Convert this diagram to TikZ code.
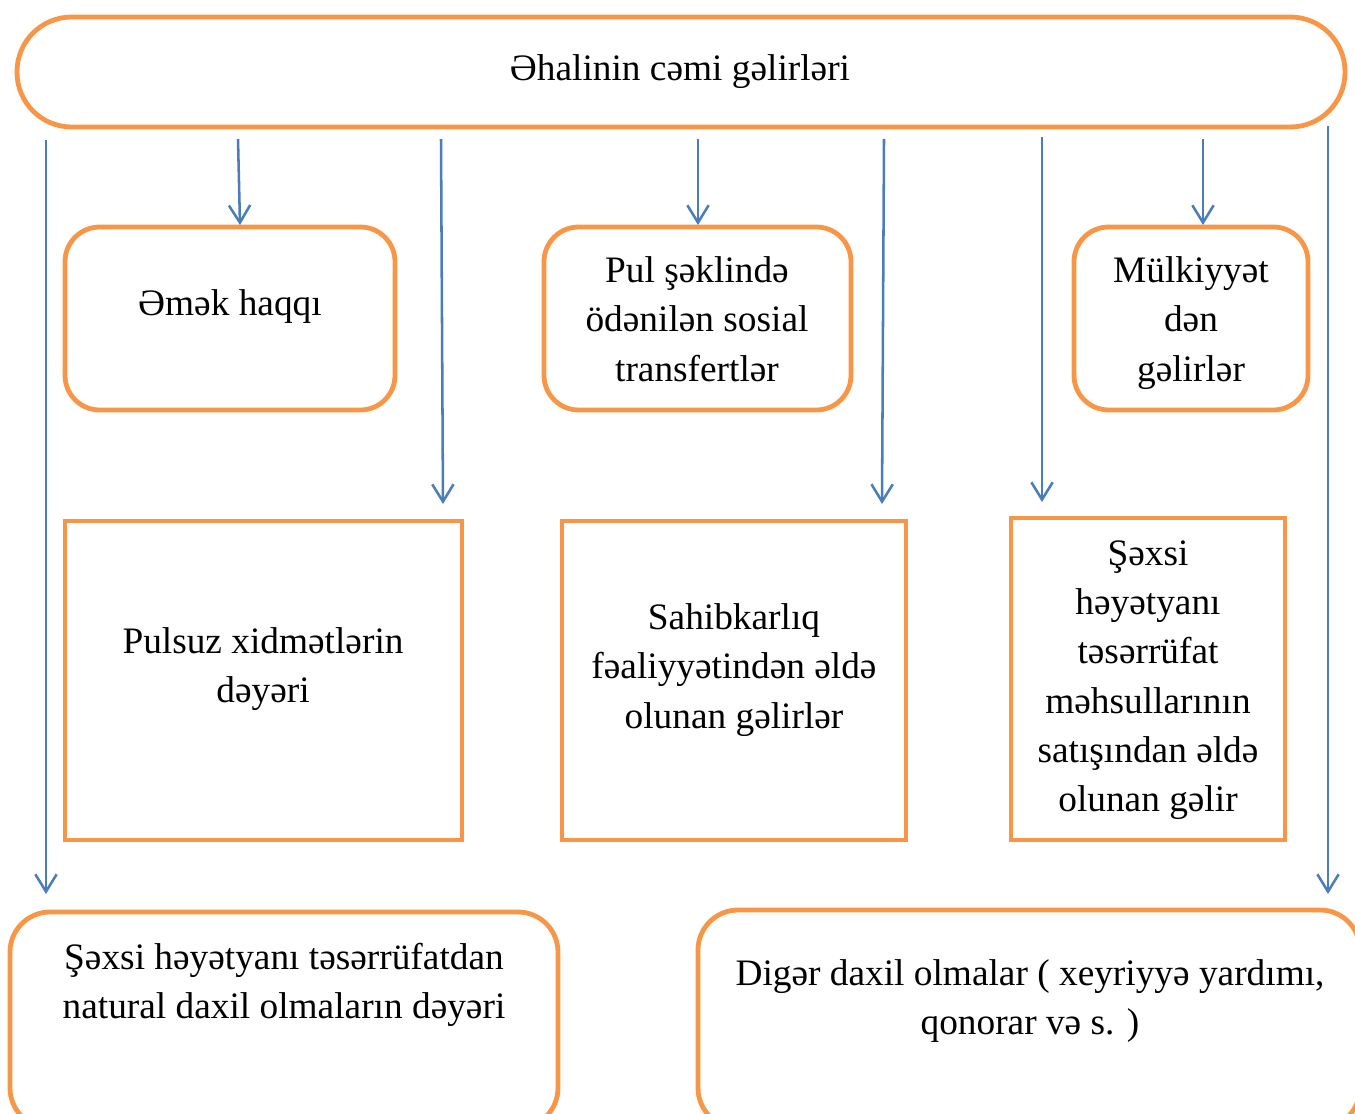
\documentclass[tikz,border=0pt]{standalone}
\usepackage{fontspec}
\setmainfont{Liberation Serif}
\usetikzlibrary{arrows.meta}
\definecolor{boxorange}{HTML}{F79646}
\definecolor{arrblue}{HTML}{4A7EBB}
\begin{document}
\begin{tikzpicture}[x=0.75pt,y=-0.75pt,
  box/.style={draw=boxorange, line width=3.6pt, inner sep=0pt, outer sep=0pt},
  rbox/.style={box, rounded corners=26pt},
  lbl/.style={align=center, font=\fontsize{28}{37}\selectfont, inner sep=0pt},
  arr/.style={draw=arrblue, line width=1.9pt, -{Straight Barb[length=13pt,width=16pt,line width=1.9pt]}}
]
\useasboundingbox (0,0) rectangle (1355,1113);
\clip (0,0) rectangle (1355,1113);

% boxes
\node[box, rounded corners=41pt, minimum width=996pt, minimum height=82.5pt] (top) at (681,72) {};
\node[rbox, minimum width=247.5pt, minimum height=137.25pt] (emek) at (230,318.5) {};
\node[rbox, minimum width=230.25pt, minimum height=137.25pt] (pul) at (697.5,318.5) {};
\node[rbox, minimum width=175.5pt, minimum height=137.25pt] (mulk) at (1191,318.5) {};
\node[box, minimum width=297.75pt, minimum height=239.25pt] (pulsuz) at (263.5,680.5) {};
\node[box, minimum width=258pt, minimum height=239.25pt] (sahib) at (734,680.5) {};
\node[box, minimum width=205.5pt, minimum height=241.5pt] (sexsi) at (1148,679) {};
\node[box, rounded corners=30pt, minimum width=411pt, minimum height=162pt] (natural) at (284,1020) {};
\node[box, rounded corners=30pt, minimum width=496.5pt, minimum height=163.5pt] (diger) at (1029,1019) {};

% texts
\node[lbl] (ttop) at (680,72) {Əhalinin cəmi gəlirləri};
\node[lbl] (temek) at (230,307) {Əmək haqqı};
\node[lbl] (tpul) at (697,319) {Pul şəklində\\ödənilən sosial\\transfertlər};
\node[lbl] (tmulk) at (1191,323) {Mülkiyyət\\dən\\gəlirlər};
\node[lbl] (tpulsuz) at (263,669) {Pulsuz xidmətlərin\\dəyəri};
\node[lbl] (tsahib) at (734,670) {Sahibkarlıq\\fəaliyyətindən əldə\\olunan gəlirlər};
\node[lbl] (tsexsi) at (1148,680) {Şəxsi\\həyətyanı\\təsərrüfat\\məhsullarının\\satışından əldə\\olunan gəlir};
\node[lbl] (tnatural) at (284,985) {Şəxsi həyətyanı təsərrüfatdan\\natural daxil olmaların dəyəri};
\node[lbl] (tdiger) at (1030,1001) {Digər daxil olmalar ( xeyriyyə yardımı,\\qonorar və s. )};

% arrow end points
\coordinate (s1) at (46,140);   \coordinate (e1) at (46,894);
\coordinate (s2) at (238,139);  \coordinate (e2) at (240,225);
\coordinate (s3) at (441,139);  \coordinate (e3) at (443,504);
\coordinate (s4) at (698,139);  \coordinate (e4) at (698,225);
\coordinate (s5) at (884,139);  \coordinate (e5) at (882,504);
\coordinate (s6) at (1042,137); \coordinate (e6) at (1042,502);
\coordinate (s7) at (1203,139); \coordinate (e7) at (1203,225);
\coordinate (s8) at (1328,126); \coordinate (e8) at (1328,894);

\draw[arr] (s1) -- (e1);
\draw[arr] (s2) -- (e2);
\draw[arr] (s3) -- (e3);
\draw[arr] (s4) -- (e4);
\draw[arr] (s5) -- (e5);
\draw[arr] (s6) -- (e6);
\draw[arr] (s7) -- (e7);
\draw[arr] (s8) -- (e8);
\end{tikzpicture}
\end{document}
